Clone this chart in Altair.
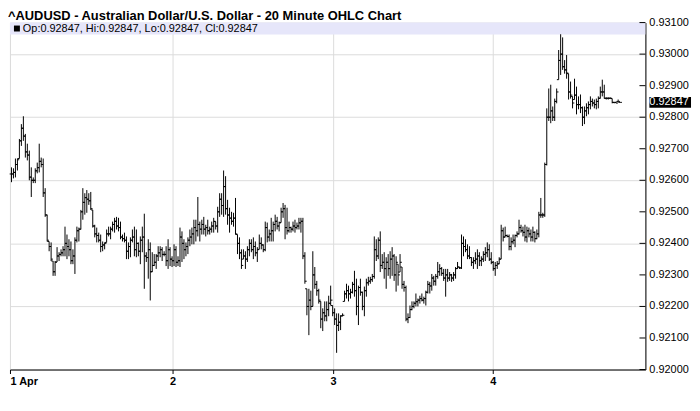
import altair as alt
import pandas as pd

# 20-minute bars, prices in units of 0.00001 USD
highs = [
    92641, 92638, 92669, 92669, 92731, 92778, 92803, 92747, 92716, 92694,
    92641, 92609, 92638, 92656, 92716, 92672, 92669, 92575, 92491, 92406,
    92403, 92344, 92344, 92388, 92372, 92381, 92391, 92453, 92428, 92413,
    92406, 92381, 92419, 92453, 92450, 92506, 92575, 92559, 92569, 92559,
    92563, 92506, 92459, 92450, 92434, 92428, 92406, 92403, 92444, 92453,
    92453, 92469, 92481, 92484, 92481, 92469, 92428, 92434, 92422, 92403,
    92419, 92444, 92453, 92444, 92403, 92422, 92453, 92494, 92372, 92413,
    92403, 92372, 92366, 92366, 92391, 92391, 92388, 92375, 92391, 92413,
    92388, 92359, 92397, 92391, 92359, 92450, 92438, 92413, 92403, 92419,
    92444, 92450, 92475, 92475, 92547, 92469, 92475, 92484, 92459, 92475,
    92453, 92469, 92481, 92469, 92516, 92559, 92559, 92631, 92613, 92538,
    92513, 92500, 92497, 92544, 92428, 92419, 92381, 92381, 92375, 92391,
    92413, 92413, 92419, 92406, 92388, 92428, 92419, 92397, 92469, 92466,
    92444, 92481, 92469, 92491, 92484, 92469, 92513, 92528, 92522, 92513,
    92469, 92453, 92469, 92475, 92466, 92481, 92481, 92481, 92372, 92256,
    92256, 92250, 92375, 92325, 92281, 92256, 92216, 92194, 92216, 92216,
    92234, 92266, 92203, 92194, 92178, 92178, 92172, 92178, 92250, 92272,
    92266, 92256, 92278, 92313, 92288, 92266, 92288, 92247, 92263, 92288,
    92294, 92294, 92303, 92422, 92413, 92419, 92438, 92366, 92372, 92356,
    92366, 92375, 92388, 92366, 92359, 92334, 92366, 92325, 92281, 92266,
    92178, 92203, 92216, 92216, 92241, 92225, 92234, 92241, 92231, 92250,
    92281, 92278, 92303, 92297, 92303, 92341, 92334, 92325, 92319, 92319,
    92319, 92309, 92303, 92309, 92325, 92341, 92325, 92428, 92422, 92413,
    92397, 92391, 92356, 92356, 92372, 92381, 92372, 92359, 92375, 92388,
    92403, 92397, 92372, 92344, 92341, 92344, 92356, 92459, 92450, 92453,
    92428, 92428, 92419, 92428, 92428, 92438, 92475, 92459, 92453, 92459,
    92453, 92450, 92444, 92453, 92438, 92444, 92500, 92544, 92497, 92656,
    92828, 92891, 92903, 92834, 92859, 92891, 93013, 93063, 93053, 92981,
    92997, 92938, 92913, 92866, 92922, 92897, 92866, 92872, 92834, 92834,
    92844, 92850, 92866, 92859, 92856, 92859, 92866, 92897, 92919, 92903,
    92863, 92863, 92863, 92859, 92847, 92847, 92856, 92847,
]
lows = [
    92594, 92606, 92609, 92631, 92669, 92709, 92725, 92672, 92663, 92600,
    92547, 92591, 92591, 92622, 92625, 92641, 92547, 92484, 92406, 92375,
    92344, 92297, 92297, 92341, 92344, 92359, 92359, 92359, 92350, 92359,
    92334, 92334, 92303, 92403, 92406, 92444, 92475, 92491, 92497, 92522,
    92506, 92450, 92419, 92403, 92403, 92372, 92375, 92381, 92403, 92422,
    92413, 92438, 92434, 92444, 92438, 92413, 92406, 92403, 92350, 92350,
    92356, 92403, 92359, 92356, 92359, 92334, 92372, 92256, 92341, 92288,
    92219, 92309, 92328, 92319, 92344, 92356, 92344, 92359, 92328, 92319,
    92328, 92325, 92328, 92325, 92328, 92325, 92341, 92350, 92359, 92366,
    92391, 92397, 92397, 92406, 92422, 92406, 92428, 92428, 92422, 92428,
    92428, 92434, 92434, 92444, 92434, 92484, 92491, 92484, 92491, 92459,
    92434, 92459, 92453, 92428, 92366, 92350, 92319, 92350, 92319, 92341,
    92359, 92372, 92350, 92359, 92341, 92381, 92381, 92372, 92375, 92403,
    92406, 92406, 92406, 92438, 92444, 92438, 92466, 92481, 92413, 92428,
    92434, 92434, 92438, 92434, 92444, 92444, 92434, 92350, 92272, 92172,
    92109, 92188, 92200, 92256, 92234, 92209, 92131, 92122, 92153, 92153,
    92169, 92203, 92169, 92141, 92053, 92122, 92125, 92169, 92216, 92225,
    92216, 92225, 92241, 92231, 92172, 92141, 92234, 92188, 92169, 92231,
    92266, 92272, 92278, 92288, 92344, 92350, 92309, 92319, 92288, 92256,
    92297, 92288, 92297, 92281, 92247, 92266, 92309, 92256, 92247, 92153,
    92147, 92163, 92188, 92194, 92200, 92200, 92209, 92216, 92209, 92203,
    92241, 92241, 92250, 92266, 92266, 92288, 92297, 92297, 92281, 92231,
    92278, 92281, 92278, 92281, 92288, 92319, 92319, 92319, 92359, 92372,
    92350, 92350, 92328, 92319, 92334, 92319, 92328, 92328, 92341, 92344,
    92356, 92344, 92334, 92313, 92297, 92319, 92334, 92350, 92406, 92419,
    92419, 92378, 92378, 92397, 92388, 92419, 92428, 92434, 92422, 92406,
    92403, 92419, 92406, 92406, 92403, 92413, 92419, 92481, 92481, 92484,
    92647, 92788, 92781, 92788, 92788, 92844, 92919, 92934, 92950, 92938,
    92922, 92856, 92859, 92828, 92856, 92809, 92825, 92813, 92772, 92778,
    92803, 92809, 92825, 92834, 92828, 92825, 92828, 92859, 92866, 92859,
    92856, 92856, 92859, 92844, 92844, 92844, 92850, 92847,
]
closes = [
    92620, 92625, 92650, 92665, 92725, 92765, 92740, 92690, 92680, 92610,
    92600, 92600, 92630, 92640, 92660, 92650, 92560, 92490, 92410, 92390,
    92350, 92310, 92340, 92360, 92365, 92370, 92380, 92400, 92390, 92380,
    92345, 92360, 92410, 92440, 92445, 92500, 92530, 92545, 92540, 92535,
    92510, 92455, 92430, 92425, 92410, 92390, 92395, 92400, 92430, 92430,
    92445, 92460, 92470, 92455, 92450, 92420, 92415, 92410, 92375, 92390,
    92410, 92420, 92380, 92400, 92375, 92410, 92420, 92360, 92355, 92380,
    92310, 92330, 92340, 92360, 92370, 92380, 92365, 92365, 92345, 92380,
    92350, 92345, 92380, 92340, 92345, 92420, 92400, 92380, 92390, 92410,
    92420, 92430, 92450, 92440, 92460, 92445, 92460, 92445, 92450, 92440,
    92445, 92455, 92470, 92455, 92500, 92540, 92520, 92580, 92510, 92490,
    92480, 92470, 92480, 92430, 92400, 92370, 92330, 92360, 92350, 92380,
    92400, 92380, 92390, 92370, 92380, 92400, 92395, 92380, 92450, 92420,
    92430, 92440, 92460, 92470, 92455, 92465, 92500, 92510, 92450, 92440,
    92450, 92445, 92455, 92450, 92455, 92465, 92470, 92360, 92280, 92200,
    92220, 92200, 92300, 92270, 92250, 92220, 92160, 92180, 92170, 92190,
    92210, 92220, 92180, 92160, 92140, 92150, 92170, 92172, 92240, 92250,
    92240, 92245, 92270, 92250, 92200, 92260, 92245, 92200, 92250, 92275,
    92280, 92285, 92295, 92380, 92360, 92410, 92330, 92340, 92320, 92340,
    92320, 92350, 92360, 92300, 92340, 92300, 92340, 92270, 92260, 92160,
    92165, 92190, 92200, 92210, 92215, 92220, 92225, 92220, 92225, 92245,
    92270, 92265, 92290, 92280, 92295, 92310, 92320, 92305, 92290, 92300,
    92290, 92300, 92290, 92300, 92320, 92325, 92322, 92400, 92390, 92380,
    92360, 92355, 92340, 92345, 92350, 92360, 92345, 92350, 92365, 92370,
    92380, 92350, 92340, 92320, 92330, 92335, 92350, 92440, 92420, 92425,
    92422, 92390, 92405, 92410, 92425, 92430, 92450, 92440, 92435, 92420,
    92440, 92430, 92420, 92435, 92415, 92430, 92490, 92490, 92490, 92650,
    92800, 92800, 92820, 92800, 92850, 92880, 92980, 93000, 92960, 92950,
    92940, 92880, 92870, 92845, 92870, 92840, 92840, 92830, 92800, 92820,
    92830, 92840, 92850, 92845, 92840, 92850, 92860, 92880, 92880, 92860,
    92860, 92860, 92860, 92847, 92847, 92845, 92850, 92847,
]

day_labels = ["1 Apr", "2", "3", "4"]
day_positions = [-0.75, 81.25, 162.25, 242.75]   # bar index where each day starts
y_ticks = [0.92000, 0.92100, 0.92200, 0.92300, 0.92400, 0.92500,
           0.92600, 0.92700, 0.92800, 0.92900, 0.93000, 0.93100]

title_text = "^AUDUSD - Australian Dollar/U.S. Dollar - 20 Minute OHLC Chart"
FONT = "Liberation Sans, Arial, Helvetica, sans-serif"
W, H = 641, 350

n = len(highs)
hi = [v / 1e5 for v in highs]
lo = [v / 1e5 for v in lows]
cl = [v / 1e5 for v in closes]
# forex bars open where the previous bar closed
op = [cl[0]] + [min(max(cl[k - 1], lo[k]), hi[k]) for k in range(1, n)]
df = pd.DataFrame({"i": list(range(n)), "high": hi, "low": lo, "open": op, "close": cl})

last = df.iloc[-1]
header = "Op:%.5f, Hi:%.5f, Lo:%.5f, Cl:%.5f" % (last["open"], last["high"], last["low"], last["close"])
last_df = pd.DataFrame({"close": [last["close"]], "label": ["%.5f" % last["close"]]})
ticks_df = pd.DataFrame({"v": y_ticks, "label": ["%.5f" % v for v in y_ticks]})
hdr_df = pd.DataFrame({"t": [header], "title": [title_text]})

xscale = alt.Scale(domain=[-0.75, 319.75], nice=False, zero=False)
yscale = alt.Scale(domain=[0.920, 0.931], nice=False, zero=False)

label_expr = "%s[indexof(%s, datum.value)]" % (
    "[" + ",".join("'%s'" % s for s in day_labels) + "]",
    "[" + ",".join(str(p) for p in day_positions) + "]",
)

x_axis = alt.Axis(values=day_positions, labelExpr=label_expr, title=None, grid=True,
                  gridColor="#dcdcdc", tickSize=4, tickColor="black", domainColor="black",
                  labelFont=FONT, labelFontSize=11, labelFontWeight="bold", labelColor="black",
                  labelPadding=2, labelFlush=False, labelOverlap=False,
                  labelAlign={"condition": {"test": "datum.value < 0", "value": "left"},
                              "value": "center"})
y_axis = alt.Axis(orient="right", values=y_ticks, title=None, grid=True, labels=False,
                  gridColor="#dcdcdc", tickSize=0, domainColor="black")

band = alt.Chart(hdr_df).mark_rect(color="#e6e6fa").encode(
    x=alt.value(0), x2=alt.value(W), y=alt.value(0), y2=alt.value(12))

square = alt.Chart(hdr_df).mark_rect(color="black").encode(
    x=alt.value(4), x2=alt.value(10), y=alt.value(3), y2=alt.value(9))

hdr_text = alt.Chart(hdr_df).mark_text(align="left", baseline="middle", font=FONT,
                                       fontSize=11, color="black").encode(
    x=alt.value(13), y=alt.value(6.5), text="t:N")

title_mark = alt.Chart(hdr_df).mark_text(align="left", baseline="alphabetic", font=FONT,
                                         fontSize=13, fontWeight="bold", color="black").encode(
    x=alt.value(-2), y=alt.value(-3), text="title:N")

bars = alt.Chart(df).mark_rule(color="black", strokeWidth=1).encode(
    x=alt.X("i:Q", scale=xscale, axis=x_axis),
    y=alt.Y("low:Q", scale=yscale, axis=y_axis),
    y2="high:Q")

open_ticks = alt.Chart(df).transform_calculate(il="datum.i - 0.9").mark_rule(
    color="black", strokeWidth=1).encode(
    x=alt.X("i:Q", scale=xscale, title=None), x2="il:Q",
    y=alt.Y("open:Q", scale=yscale, title=None))

close_ticks = alt.Chart(df).transform_calculate(ir="datum.i + 0.9").mark_rule(
    color="black", strokeWidth=1).encode(
    x=alt.X("i:Q", scale=xscale, title=None), x2="ir:Q",
    y=alt.Y("close:Q", scale=yscale, title=None))

inner_ticks = alt.Chart(ticks_df).mark_rule(color="black", strokeWidth=1).encode(
    x=alt.value(W - 6), x2=alt.value(W),
    y=alt.Y("v:Q", scale=yscale, title=None))

tick_labels = alt.Chart(ticks_df).mark_text(align="left", baseline="middle", font=FONT,
                                            fontSize=11, color="black").encode(
    x=alt.value(W + 4), y=alt.Y("v:Q", scale=yscale, title=None), text="label:N")

price_box = alt.Chart(last_df).mark_tick(orient="horizontal", color="black", size=42,
                                         thickness=11, opacity=1).encode(
    x=alt.value(W + 25), y=alt.Y("close:Q", scale=yscale, title=None))

price_text = alt.Chart(last_df).mark_text(align="left", baseline="middle", font=FONT,
                                          fontSize=11, color="white").encode(
    x=alt.value(W + 4), y=alt.Y("close:Q", scale=yscale, title=None), text="label:N")

chart = alt.layer(band, bars, open_ticks, close_ticks, inner_ticks, square, hdr_text,
                  title_mark, tick_labels, price_box, price_text).properties(
    width=W, height=H,
    autosize=alt.AutoSizeParams(type="none"),
    padding={"left": 2, "top": 13, "right": 47, "bottom": 25},
).configure_view(stroke="black", strokeWidth=1).configure(background="white")

chart.save("out.html", embed_options={"renderer": "svg", "actions": False})
